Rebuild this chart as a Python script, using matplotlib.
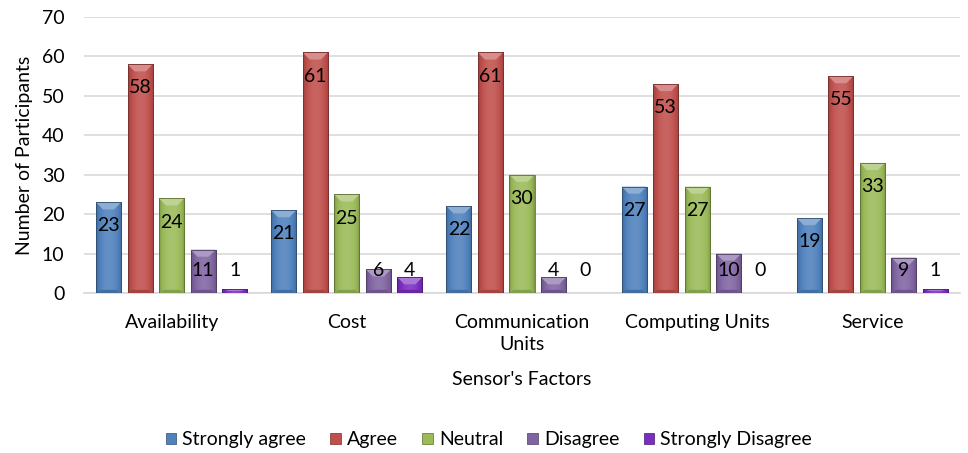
import numpy as np
import matplotlib
matplotlib.use("Agg")
import matplotlib.pyplot as plt
from matplotlib.patches import Polygon, Patch
from matplotlib.colors import to_rgb

plt.rcParams['font.family'] = ['Lato', 'DejaVu Sans']

# Survey counts per sensor factor
categories = ["Availability", "Cost", "Communication\nUnits", "Computing Units", "Service"]
series = ["Strongly agree", "Agree", "Neutral", "Disagree", "Strongly Disagree"]
strongly_agree = [23, 21, 22, 27, 19]
agree = [58, 61, 61, 53, 55]
neutral = [24, 25, 30, 27, 33]
disagree = [11, 6, 4, 10, 9]
strongly_disagree = [1, 4, 0, 0, 1]
colors = ["#4F81BD", "#C0504D", "#9BBB59", "#8064A2", "#7A2DBF"]

values = [strongly_agree, agree, neutral, disagree, strongly_disagree]
FS = 14

fig = plt.figure(figsize=(9.68, 4.53), dpi=100)
ax = fig.add_axes([0.0868, 0.3532, 0.9049, 0.6093])

x = np.arange(len(categories))
width = 0.143
step = 0.18


def shade(rgb, f):
    rgb = np.array(rgb)
    if f >= 1:
        return rgb + (1 - rgb) * (f - 1)
    return rgb * f


def bevel_bar(bar, base):
    x0 = bar.get_x()
    w = bar.get_width()
    h = bar.get_height()
    if h <= 0:
        return
    rgb = to_rgb(base)
    # horizontal shading across the bar
    t = np.linspace(0, 1, 40)
    fac = 0.78 + 0.34 * np.sin(np.pi * t) ** 0.6
    img = np.array([[shade(rgb, f) for f in fac]])
    im = ax.imshow(img, extent=(x0, x0 + w, 0, h), aspect='auto',
                   interpolation='bicubic', zorder=3)
    im.set_clip_path(bar)
    # top bevel facet
    bh = min(1.8, h * 0.5)
    d = min(0.04, w * 0.3)
    top = Polygon([(x0, h), (x0 + w, h), (x0 + w - d, h - bh), (x0 + d, h - bh)],
                  closed=True, facecolor=shade(rgb, 1.35), edgecolor='none', zorder=4)
    ax.add_patch(top)
    # darker bottom bevel
    if h > 3:
        bot = Polygon([(x0, 0), (x0 + w, 0), (x0 + w - d * 0.6, 0.8), (x0 + d * 0.6, 0.8)],
                      closed=True, facecolor=shade(rgb, 0.85), edgecolor='none', zorder=4)
        ax.add_patch(bot)
    ax.add_patch(Polygon([(x0, 0), (x0, h), (x0 + w, h), (x0 + w, 0)], closed=True,
                         fill=False, edgecolor=shade(rgb, 0.6), lw=0.6, zorder=5))


for i, (name, vals, col) in enumerate(zip(series, values, colors)):
    pos = x + (i - 2) * step
    bars = ax.bar(pos, vals, width, color=col, label=name, zorder=2)
    for b, v in zip(bars, vals):
        bevel_bar(b, col)
        ly = max(v - 6, 5.7)
        ax.text(b.get_x() + b.get_width() / 2, ly, str(v), ha='center', va='center',
                fontsize=FS, color='black', zorder=6)

ax.set_xlim(-0.5, len(categories) - 0.5)
ax.set_ylim(0, 70)
ax.set_yticks(range(0, 71, 10))
ax.set_xticks(x)
ax.set_xticklabels(categories, fontsize=FS, linespacing=1.4)
ax.tick_params(axis='y', length=0, labelsize=FS, pad=14)
ax.tick_params(axis='x', length=0, pad=15)
ax.yaxis.grid(True, color='#D9D9D9', lw=1.2)
ax.set_axisbelow(True)
for s in ['top', 'right', 'left']:
    ax.spines[s].set_visible(False)
ax.spines['bottom'].set_color('#D9D9D9')
ax.spines['bottom'].set_linewidth(1.2)

ax.set_ylabel("Number of Participants", fontsize=FS, labelpad=6)
ax.set_xlabel("Sensor's Factors", fontsize=FS, labelpad=13)

handles = [Patch(facecolor=c, edgecolor=shade(to_rgb(c), 0.6), lw=0.5) for c in colors]
fig.legend(handles, series, loc='center', bbox_to_anchor=(0.505, 0.029), ncol=5,
           frameon=False, fontsize=FS, handlelength=0.55, handleheight=0.55,
           handletextpad=0.3, columnspacing=1.25)

fig.savefig("out.png", dpi=100)
